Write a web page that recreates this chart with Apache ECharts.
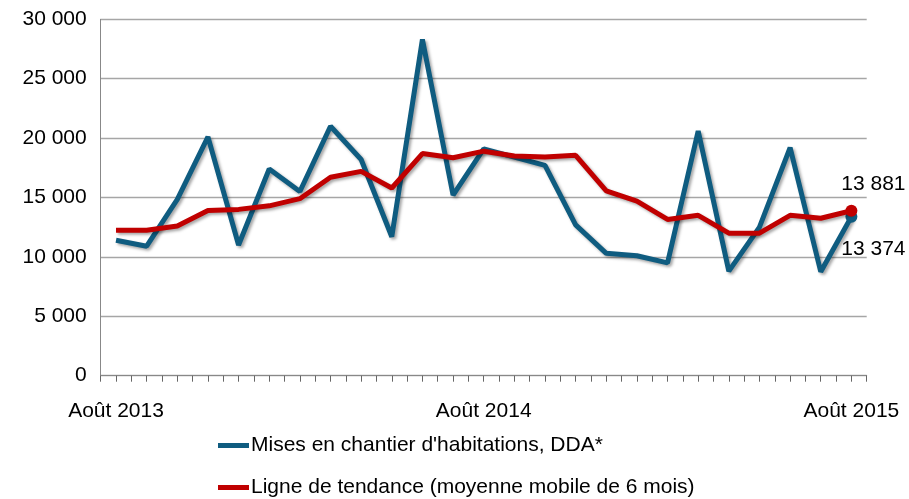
<!DOCTYPE html>
<html><head><meta charset="utf-8">
<script src="https://cdn.jsdelivr.net/npm/echarts@6/dist/echarts.min.js"></script>
<style>html,body{margin:0;padding:0;background:#fff}#c{width:909px;height:499px}</style>
</head><body><div id="c"></div>
<script>
const categories = ['Août 2013','Sept. 2013','Oct. 2013','Nov. 2013','Déc. 2013','Janv. 2014','Févr. 2014','Mars 2014','Avr. 2014','Mai 2014','Juin 2014','Juil. 2014',
 'Août 2014','Sept. 2014','Oct. 2014','Nov. 2014','Déc. 2014','Janv. 2015','Févr. 2015','Mars 2015','Avr. 2015','Mai 2015','Juin 2015','Juil. 2015','Août 2015'];
const misesEnChantier = [11400,10900,14850,20100,11000,17400,15500,21000,18200,11700,28300,15200,19100,18400,17700,12700,10300,10100,9500,20600,8800,12500,19200,8750,13374];
const tendance = [12250,12250,12600,13900,14000,14300,14900,16700,17200,15800,18700,18350,18900,18500,18400,18550,15550,14700,13150,13500,12000,12000,13500,13250,13881];
const yTicks = {min:0, max:30000, interval:5000};
const seriesNames = ["Mises en chantier d'habitations, DDA*", 'Ligne de tendance (moyenne mobile de 6 mois)'];

const FONT = '"Liberation Sans", Arial, sans-serif';
const fmt = v => String(v).replace(/\B(?=(\d{3})+(?!\d))/g, ' ');
const last = categories.length - 1;
const shadow = {shadowColor:'rgba(0,0,0,0.35)', shadowBlur:3, shadowOffsetX:2, shadowOffsetY:2};

function withEnd(arr, color, labelOffset) {
  return arr.map((v, i) => i === last ? {
    value: v, symbol: 'circle', symbolSize: 12,
    itemStyle: {color: color},
    label: {show: true, position: 'top', offset: labelOffset, formatter: p => fmt(p.value),
            fontFamily: FONT, fontSize: 21, color: '#000'}
  } : v);
}

const legendBase = {
  orient: 'vertical', left: 213,
  icon: 'rect', itemWidth: 31, itemHeight: 5, itemGap: 2,
  textStyle: {fontFamily: FONT, fontSize: 21, color: '#000', padding: [0,0,0,-3]}
};

const chart = echarts.init(document.getElementById('c'), null, {renderer:'canvas'});
chart.setOption({
  animation: false,
  textStyle: {fontFamily: FONT},
  grid: {left: 100.7, right: 42.3, top: 19.3, bottom: 123.3},
  legend: [
    Object.assign({}, legendBase, {top: 430, data: [seriesNames[0]]}),
    Object.assign({}, legendBase, {top: 472, data: [seriesNames[1]]})
  ],
  xAxis: [{
    type: 'category', data: categories, boundaryGap: true,
    axisLine: {lineStyle: {color: '#888', width: 1}},
    axisTick: {show: true, interval: 0, length: 6, lineStyle: {color: '#666'}},
    axisLabel: {interval: 11, margin: 25, fontFamily: FONT, fontSize: 21, color: '#000', showMaxLabel: true}
  }, {
    type: 'category', data: categories, boundaryGap: true, position: 'bottom',
    axisLine: {show: false},
    axisTick: {show: true, interval: 0, alignWithLabel: true, length: 6, lineStyle: {color: '#666'}},
    axisLabel: {show: false}
  }],
  yAxis: {
    type: 'value', min: yTicks.min, max: yTicks.max, interval: yTicks.interval,
    axisLine: {show: true, lineStyle: {color: '#888'}},
    axisTick: {show: false},
    splitLine: {lineStyle: {color: '#a6a6a6', width: 1.3}},
    axisLabel: {margin: 14, fontFamily: FONT, fontSize: 21, color: '#000', formatter: fmt}
  },
  series: [{
    name: seriesNames[0], type: 'line', data: withEnd(misesEnChantier, '#0f5c80', [22, 54]),
    symbol: 'none', showSymbol: true, color: '#0f5c80',
    lineStyle: Object.assign({width: 5, color: '#0f5c80'}, shadow), z: 2
  }, {
    name: seriesNames[1], type: 'line', data: withEnd(tendance, '#c00000', [22, -5]),
    symbol: 'none', showSymbol: true, color: '#c00000',
    lineStyle: Object.assign({width: 5, color: '#c00000'}, shadow), z: 3
  }]
});
</script></body></html>
